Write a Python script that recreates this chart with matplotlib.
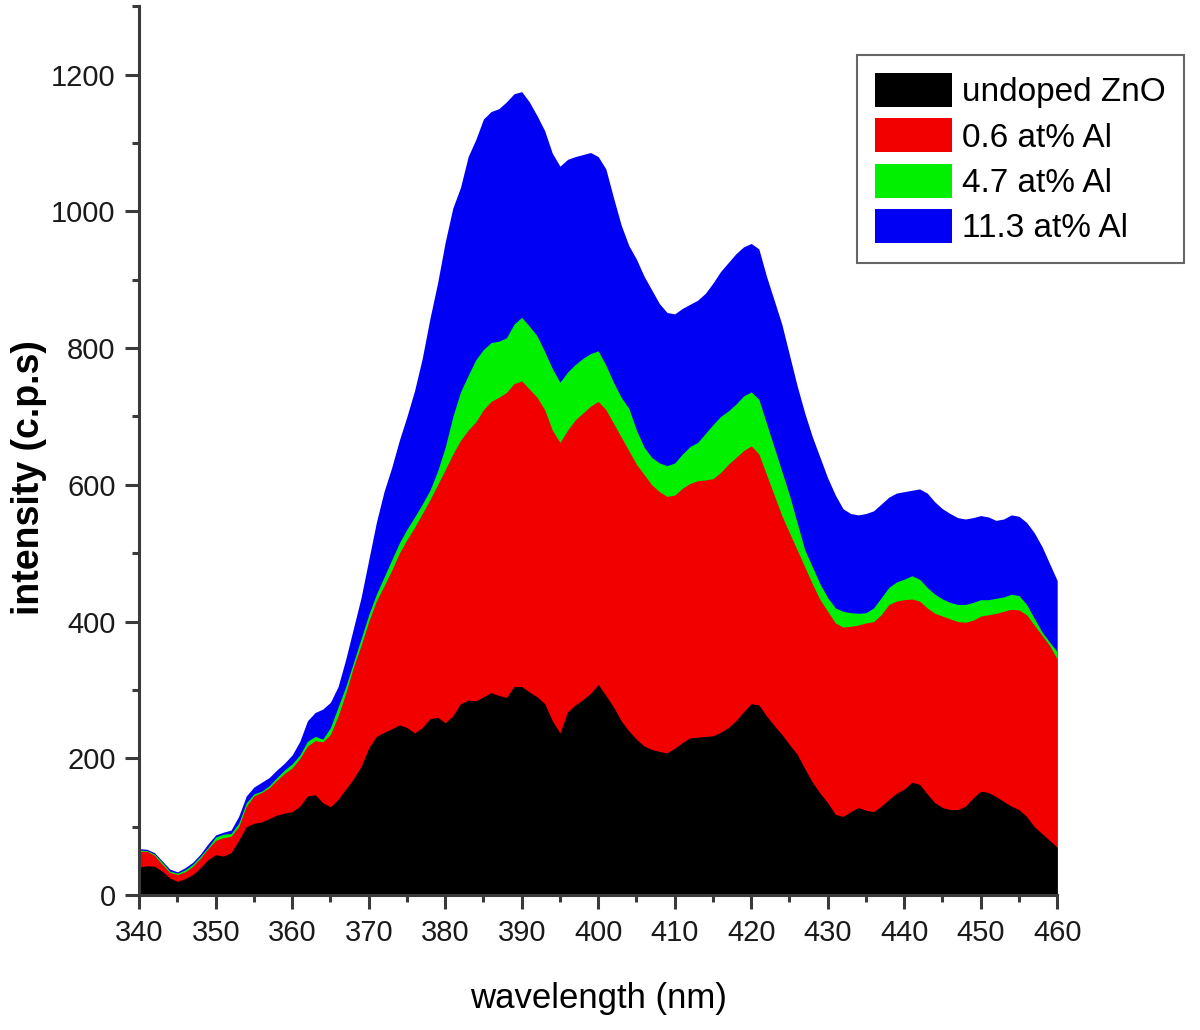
import numpy as np
import matplotlib
matplotlib.use("Agg")
import matplotlib.pyplot as plt
from matplotlib.patches import Patch
from matplotlib.ticker import MultipleLocator

plt.rcParams['font.family'] = ['Liberation Sans', 'DejaVu Sans']

# wavelength grid (nm), 1 nm steps from 340 to 460
wavelength = np.arange(340, 461)

undoped = [41, 43, 42, 35, 25, 20, 24, 30, 40, 52,
           59, 57, 62, 80, 100, 105, 107, 112, 117, 120,
           122, 130, 145, 147, 135, 129, 140, 155, 170, 188,
           215, 232, 238, 243, 249, 245, 237, 245, 258, 260,
           252, 262, 280, 285, 284, 290, 296, 292, 289, 305,
           305, 297, 290, 280, 255, 237, 268, 278, 286, 295,
           308, 292, 275, 255, 240, 228, 218, 213, 210, 208,
           215, 223, 230, 231, 232, 233, 238, 245, 255, 268,
           280, 278, 262, 248, 235, 220, 206, 185, 165, 149,
           135, 118, 115, 122, 128, 124, 122, 130, 140, 149,
           155, 165, 162, 148, 135, 128, 125, 125, 130, 142,
           152, 150, 144, 137, 130, 125, 115, 100, 90, 80,
           70]

al_06 = [64, 64, 58, 45, 33, 30, 34, 42, 54, 68,
         80, 84, 86, 100, 130, 145, 150, 157, 168, 178,
         186, 200, 218, 226, 224, 235, 262, 295, 333, 365,
         400, 430, 452, 475, 500, 520, 538, 558, 578, 600,
         622, 645, 665, 680, 692, 710, 722, 728, 735, 748,
         752, 740, 728, 710, 680, 662, 680, 695, 705, 715,
         722, 710, 690, 670, 650, 630, 615, 600, 590, 583,
         585, 595, 602, 606, 607, 609, 618, 630, 640, 650,
         657, 645, 615, 585, 555, 530, 505, 480, 455, 432,
         415, 398, 392, 393, 395, 398, 400, 410, 425, 430,
         432, 433, 430, 420, 412, 408, 404, 400, 399, 402,
         408, 410, 412, 415, 418, 417, 410, 395, 380, 365,
         345]

al_47 = [66, 65, 60, 48, 35, 32, 37, 45, 57, 70,
         85, 89, 90, 105, 135, 148, 152, 160, 172, 183,
         192, 205, 225, 232, 228, 245, 275, 305, 340, 375,
         410, 440, 465, 490, 515, 535, 553, 572, 592, 620,
         655, 700, 736, 760, 783, 798, 808, 810, 815, 835,
         845, 832, 818, 795, 770, 750, 765, 776, 785, 792,
         796, 775, 750, 728, 712, 680, 655, 640, 632, 628,
         632, 645, 656, 662, 675, 688, 700, 708, 718, 730,
         736, 725, 690, 655, 620, 585, 545, 505, 480, 455,
         435, 420, 415, 413, 412, 413, 420, 435, 450, 458,
         462, 467, 462, 450, 440, 433, 428, 425, 425, 428,
         432, 432, 434, 436, 440, 438, 425, 405, 385, 370,
         356]

al_113 = [68, 67, 62, 50, 38, 34, 40, 48, 60, 75,
          88, 92, 95, 115, 145, 158, 165, 172, 183, 193,
          205, 225, 255, 267, 272, 282, 305, 345, 390, 435,
          490, 545, 590, 625, 665, 700, 738, 785, 843, 895,
          955, 1005, 1035, 1080, 1105, 1135, 1146, 1150, 1160, 1172,
          1175, 1160, 1140, 1118, 1085, 1066, 1076, 1080, 1083, 1086,
          1080, 1062, 1020, 980, 950, 930, 905, 885, 865, 852,
          850, 858, 864, 870, 880, 895, 912, 925, 938, 948,
          953, 945, 905, 870, 835, 790, 745, 705, 670, 640,
          610, 585, 565, 558, 556, 558, 562, 572, 582, 588,
          590, 592, 594, 588, 575, 565, 558, 552, 550, 552,
          555, 553, 548, 550, 556, 554, 545, 530, 510, 485,
          460]

labels = ["undoped ZnO", "0.6 at% Al", "4.7 at% Al", "11.3 at% Al"]
colors = ["#000000", "#f20000", "#00f000", "#0000f5"]
series = [undoped, al_06, al_47, al_113]

fig = plt.figure(figsize=(12, 10.3), dpi=100)
ax = fig.add_axes([0.116, 0.131, 0.765, 0.863])

# largest first so the smaller spectra sit on top
for vals, col in zip(series[::-1], colors[::-1]):
    ax.fill_between(wavelength, 0, vals, color=col, linewidth=0)

ax.set_xlim(340, 460)
ax.set_ylim(0, 1300)
ax.xaxis.set_major_locator(MultipleLocator(10))
ax.xaxis.set_minor_locator(MultipleLocator(5))
ax.yaxis.set_major_locator(MultipleLocator(200))
ax.yaxis.set_minor_locator(MultipleLocator(100))
ax.set_yticks(np.arange(0, 1201, 200))

for side in ["top", "right"]:
    ax.spines[side].set_visible(False)
for side in ["left", "bottom"]:
    ax.spines[side].set_linewidth(2.2)
    ax.spines[side].set_color("#3a3a3a")

ax.tick_params(which="major", direction="out", length=10, width=2.2,
               color="#3a3a3a", labelsize=21, pad=7, labelcolor="#1a1a1a")
ax.tick_params(which="minor", direction="out", length=5, width=2.2,
               color="#3a3a3a")

ax.set_xlabel("wavelength (nm)", fontsize=25)
ax.xaxis.set_label_coords(0.5, -0.098)
ax.set_ylabel("intensity (c.p.s)", fontsize=27, fontweight="bold")
ax.yaxis.set_label_coords(-0.1, 0.47)

handles = [Patch(facecolor=c, edgecolor="none") for c in colors]
leg = fig.legend(handles, labels, loc="upper left",
                 bbox_to_anchor=(0.714, 0.947), borderaxespad=0,
                 fontsize=24, handlelength=2.3, handleheight=1.2,
                 handletextpad=0.3, labelspacing=0.3, borderpad=0.55,
                 fancybox=False, framealpha=1)
leg.get_frame().set_edgecolor("#666666")
leg.get_frame().set_linewidth(1.5)

fig.savefig("out.png", dpi=100)
